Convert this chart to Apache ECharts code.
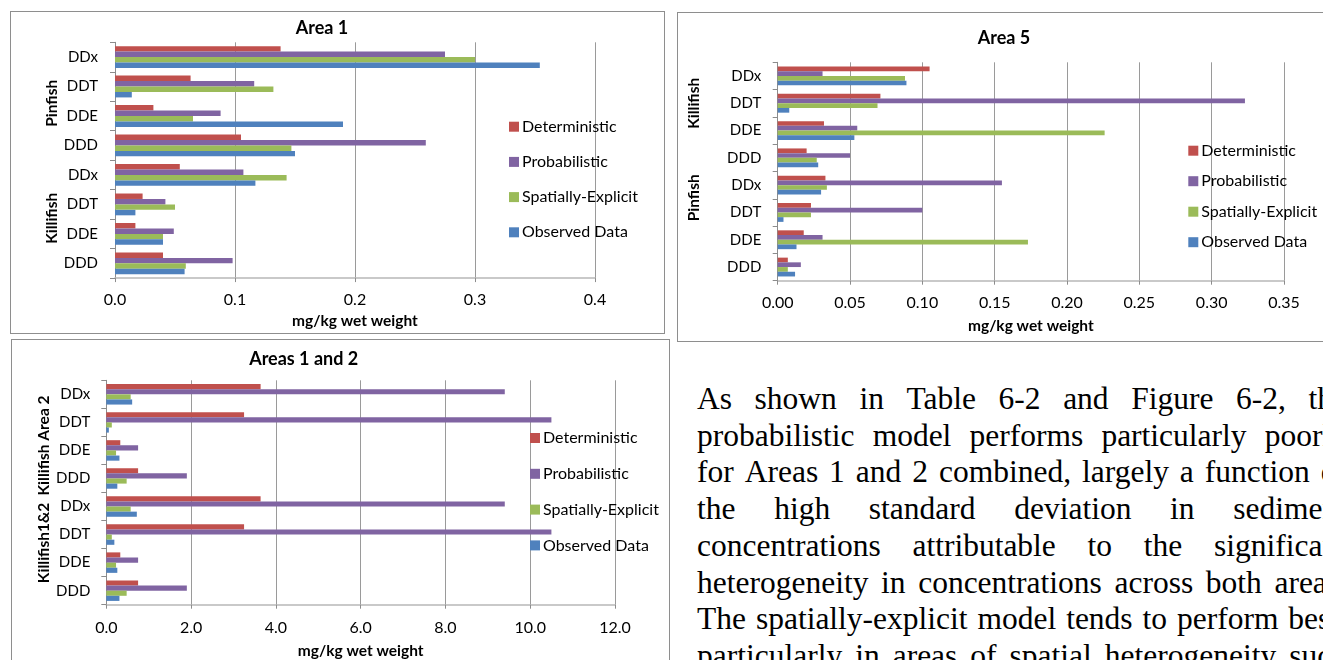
<!DOCTYPE html>
<html>
<head>
<meta charset="utf-8">
<script src="https://cdn.jsdelivr.net/npm/echarts@6/dist/echarts.min.js"></script>
<style>
html, body { margin: 0; padding: 0; background: #fff; }
body { width: 1323px; height: 660px; overflow: hidden; position: relative; }
.chart { position: absolute; }
.frame { position: absolute; border: 1px solid #8e8e8e; box-sizing: border-box; pointer-events: none; }
#para { position: absolute; left: 697px; top: 381px; width: 650px;
  font-family: "Liberation Serif", "Times New Roman", serif; font-size: 31.5px;
  line-height: 36.7px; color: #000; }
#para .ln { display: flex; justify-content: space-between; white-space: nowrap; }
</style>
</head>
<body>
<div id="c1" class="chart" style="left:10px;top:11px;width:655px;height:323px"></div>
<div id="c2" class="chart" style="left:677px;top:12px;width:660px;height:330px"></div>
<div id="c3" class="chart" style="left:11px;top:339px;width:659px;height:330px"></div>
<div class="frame" style="left:10px;top:11px;width:655px;height:323px"></div>
<div class="frame" style="left:677px;top:12px;width:700px;height:330px"></div>
<div class="frame" style="left:11px;top:339px;width:659px;height:340px"></div>
<div id="para"></div>
<script>
const seriesNames = ['Deterministic', 'Probabilistic', 'Spatially-Explicit', 'Observed Data'];
const seriesColors = ['#C0504D', '#8064A2', '#9BBB59', '#4F81BD'];

// compounds as printed, top to bottom
const compounds = ['DDx', 'DDT', 'DDE', 'DDD', 'DDx', 'DDT', 'DDE', 'DDD'];

// Area 1 (Pinfish on top, Killifish below)
const area1Groups = ['Pinfish', 'Killifish'];
const area1Det  = [0.138, 0.063, 0.032, 0.105, 0.054, 0.023, 0.017, 0.040];
const area1Prob = [0.275, 0.116, 0.088, 0.259, 0.107, 0.042, 0.049, 0.098];
const area1Spat = [0.300, 0.132, 0.065, 0.147, 0.143, 0.050, 0.040, 0.059];
const area1Obs  = [0.354, 0.014, 0.190, 0.150, 0.117, 0.017, 0.040, 0.058];
const area1Ticks = [0, 0.4, 0.1];

// Area 5 (Killifish on top, Pinfish below)
const area5Groups = ['Killifish', 'Pinfish'];
const area5Det  = [0.105, 0.071, 0.032, 0.020, 0.033, 0.023, 0.018, 0.007];
const area5Prob = [0.031, 0.323, 0.055, 0.050, 0.155, 0.100, 0.031, 0.016];
const area5Spat = [0.088, 0.069, 0.226, 0.027, 0.034, 0.023, 0.173, 0.007];
const area5Obs  = [0.089, 0.008, 0.053, 0.028, 0.030, 0.004, 0.013, 0.012];
const area5Ticks = [0, 0.35, 0.05];

// Areas 1 and 2
const area12Groups = ['Killifish Area 2', 'Killifish1&2'];
const area12Det  = [3.64, 3.25, 0.33, 0.75, 3.64, 3.25, 0.33, 0.75];
const area12Prob = [9.40, 10.50, 0.75, 1.90, 9.40, 10.50, 0.75, 1.90];
const area12Spat = [0.575, 0.13, 0.23, 0.48, 0.575, 0.13, 0.23, 0.48];
const area12Obs  = [0.61, 0.06, 0.31, 0.26, 0.72, 0.19, 0.26, 0.31];
const area12Ticks = [0, 12, 2];

const paraLines = [
  'As shown in Table 6-2 and Figure 6-2, the',
  'probabilistic model performs particularly poorly',
  'for Areas 1 and 2 combined, largely a function of',
  'the high standard deviation in sediment',
  'concentrations attributable to the significant',
  'heterogeneity in concentrations across both areas.',
  'The spatially-explicit model tends to perform best,',
  'particularly in areas of spatial heterogeneity such'
];

const FONT = 'Lato';

function barChart(id, cfg) {
  const chart = echarts.init(document.getElementById(id));
  const series = cfg.values.map(function (vals, i) {
    return {
      name: seriesNames[i],
      type: 'bar',
      data: vals,
      itemStyle: { color: seriesColors[i] },
      barGap: '0%',
      barCategoryGap: cfg.gap
    };
  });
  const groupTexts = cfg.groups.map(function (g, i) {
    return {
      type: 'text',
      x: cfg.groupX,
      y: cfg.groupY[i],
      rotation: Math.PI / 2,
      style: {
        text: g,
        font: 'bold 15.5px ' + FONT,
        fill: '#000',
        textAlign: 'center',
        textVerticalAlign: 'middle'
      }
    };
  });
  chart.setOption({
    animation: false,
    title: {
      text: cfg.title,
      left: cfg.titleX,
      top: cfg.titleY,
      textAlign: 'center',
      padding: 0,
      textStyle: { fontFamily: FONT, fontWeight: 'bold', fontSize: 18, color: '#000' }
    },
    legend: {
      data: seriesNames,
      orient: 'vertical',
      left: cfg.legendX,
      top: cfg.legendY,
      padding: 0,
      itemWidth: 10,
      itemHeight: 10,
      itemGap: cfg.legendGap - 17,
      icon: 'rect',
      textStyle: { fontFamily: FONT, fontSize: 16, lineHeight: 17, color: '#000', padding: [0, 0, 0, -2] }
    },
    grid: cfg.grid,
    xAxis: {
      type: 'value',
      min: cfg.ticks[0],
      max: cfg.ticks[1],
      interval: cfg.ticks[2],
      name: 'mg/kg wet weight',
      nameLocation: 'middle',
      nameGap: cfg.nameGap,
      nameTextStyle: { fontFamily: FONT, fontWeight: 'bold', fontSize: 15.5, color: '#000' },
      axisLine: { show: true, lineStyle: { color: '#b8b8b8', width: 1.5 } },
      axisTick: { show: true, length: 4, lineStyle: { color: '#8c8c8c' } },
      axisLabel: {
        margin: cfg.labelMargin,
        fontFamily: FONT, fontSize: 16, color: '#000',
        formatter: function (v) { return v.toFixed(cfg.decimals); }
      },
      splitLine: { show: true, lineStyle: { color: '#9a9a9a' } }
    },
    yAxis: {
      type: 'category',
      inverse: true,
      data: compounds,
      axisLine: { show: true, lineStyle: { color: '#8c8c8c' } },
      axisTick: { show: true, length: 5, lineStyle: { color: '#8c8c8c' } },
      axisLabel: { margin: cfg.yMargin, fontFamily: FONT, fontSize: 15, color: '#000' }
    },
    series: series,
    graphic: groupTexts
  });
}

barChart('c1', {
  title: 'Area 1', titleX: 312, titleY: 8,
  values: [area1Det, area1Prob, area1Spat, area1Obs],
  ticks: area1Ticks, decimals: 1, gap: '26%',
  grid: { left: 105, top: 31.3, width: 480, height: 237.7 },
  legendX: 499, legendY: 107.2, legendGap: 35.2,
  nameGap: 33, labelMargin: 14, yMargin: 17,
  groups: area1Groups, groupX: 42, groupY: [92.3, 207.3]
});

barChart('c2', {
  title: 'Area 5', titleX: 327, titleY: 17.5,
  values: [area5Det, area5Prob, area5Spat, area5Obs],
  ticks: area5Ticks, decimals: 2, gap: '31%',
  grid: { left: 100.7, top: 50.3, width: 506.3, height: 218.4 },
  legendX: 511.3, legendY: 130.2, legendGap: 30.5,
  nameGap: 37, labelMargin: 14, yMargin: 16.4,
  groups: area5Groups, groupX: 17, groupY: [91.3, 185.8]
});

barChart('c3', {
  title: 'Areas 1 and 2', titleX: 292.7, titleY: 11,
  values: [area12Det, area12Prob, area12Spat, area12Obs],
  ticks: area12Ticks, decimals: 1, gap: '27%',
  grid: { left: 95.3, top: 41.3, width: 508.7, height: 224.4 },
  legendX: 519, legendY: 90.5, legendGap: 35.8,
  nameGap: 38, labelMargin: 15, yMargin: 16,
  groups: area12Groups, groupX: 32.7, groupY: [106.5, 204]
});

const para = document.getElementById('para');
paraLines.forEach(function (line) {
  const row = document.createElement('div');
  row.className = 'ln';
  line.split(' ').forEach(function (w) {
    const s = document.createElement('span');
    s.textContent = w;
    row.appendChild(s);
  });
  para.appendChild(row);
});
</script>
</body>
</html>
